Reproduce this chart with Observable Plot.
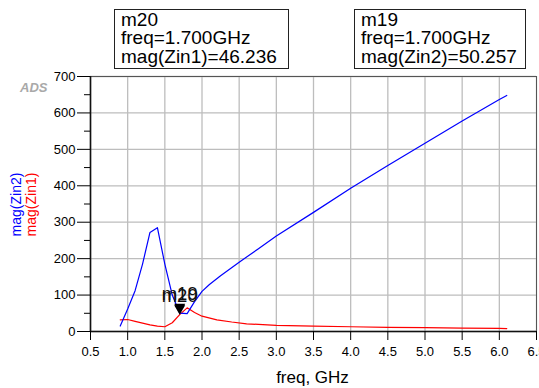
<!DOCTYPE html>
<html>
<head>
<meta charset="utf-8">
<script src="https://cdn.jsdelivr.net/npm/d3@7"></script>
<script src="https://cdn.jsdelivr.net/npm/@observablehq/plot@0.6"></script>
<style>
  html, body { margin: 0; padding: 0; background: white; }
  #chart { position: relative; width: 539px; height: 388px; overflow: hidden; }
</style>
</head>
<body>
<div id="chart"></div>
<script>
// ---- data ----
const zin2Freq = [0.9, 1.0, 1.1, 1.2, 1.3, 1.4, 1.5, 1.6, 1.7, 1.8, 1.9, 2.0, 2.1, 2.25, 2.5, 2.75, 3.0, 3.5, 4.0, 4.5, 5.0, 5.5, 6.0, 6.1];
const zin2Mag  = [15, 62, 112, 185, 272, 285, 185, 100, 50.257, 49, 82, 110, 129, 153, 190, 226, 262, 327, 393, 456, 517, 578, 637, 648];
const zin1Freq = [0.9, 1.0, 1.1, 1.2, 1.3, 1.4, 1.5, 1.6, 1.7, 1.8, 1.9, 2.0, 2.2, 2.4, 2.6, 3.0, 3.5, 4.0, 4.5, 5.0, 5.5, 6.0, 6.1];
const zin1Mag  = [32, 33, 28, 23, 18, 15, 13, 24, 46.236, 65, 52, 42, 32, 26, 21, 17, 15, 13, 11.5, 10.5, 9.5, 8.5, 8];

const markerNames  = ["m20", "m19"];
const markerTraces = ["Zin1", "Zin2"];
const markerFreq   = [1.7, 1.7];
const markerValues = [46.236, 50.257];

const xTicks = [0.5, 1.0, 1.5, 2.0, 2.5, 3.0, 3.5, 4.0, 4.5, 5.0, 5.5, 6.0, 6.5];
const yTicks = [0, 100, 200, 300, 400, 500, 600, 700];
const yMinorTicks = [50, 150, 250, 350, 450, 550, 650];

const xLabel = "freq, GHz";
const yLabels = ["mag(Zin2)", "mag(Zin1)"];
const traceColors = ["blue", "red"];

// ---- tables built from the arrays ----
const zin2 = zin2Freq.map((f, i) => ({f, v: zin2Mag[i]}));
const zin1 = zin1Freq.map((f, i) => ({f, v: zin1Mag[i]}));
const markers = markerNames.map((n, i) => ({name: n, trace: markerTraces[i], f: markerFreq[i], v: markerValues[i]}));

const downTriangle = {
  draw(ctx) {
    ctx.moveTo(0, 0);
    ctx.lineTo(-5.5, -9.5);
    ctx.lineTo(5.5, -9.5);
    ctx.closePath();
  }
};

const font = "'Liberation Sans', Arial, Helvetica, sans-serif";

const chart = Plot.plot({
  width: 539,
  height: 388,
  marginLeft: 90,
  marginRight: 3,
  marginTop: 76,
  marginBottom: 57,
  style: {fontFamily: font, fontSize: "13px", color: "black", background: "white", overflow: "hidden"},
  x: {domain: [0.5, 6.5]},
  y: {domain: [0, 700]},
  marks: [
    Plot.gridX({ticks: xTicks, stroke: "#bdbdbd", strokeOpacity: 1, strokeWidth: 1.3}),
    Plot.gridY({ticks: yTicks, stroke: "#bdbdbd", strokeOpacity: 1, strokeWidth: 1.3}),
    Plot.frame({stroke: "#555"}),
    Plot.ruleX([0.5], {stroke: "#111", strokeWidth: 1.6}),
    Plot.ruleY([0], {stroke: "#111", strokeWidth: 1.6}),
    Plot.axisY({ticks: yTicks, tickSize: 13, tickPadding: 2, label: null, fontSize: 13, tickFormat: d => String(d)}),
    Plot.axisY({ticks: yMinorTicks, tickSize: 6, label: null, tickFormat: () => ""}),
    Plot.axisX({ticks: xTicks, tickSize: 9, tickPadding: 6, label: null, fontSize: 13, tickFormat: d => d.toFixed(1)}),
    Plot.line(zin1, {x: "f", y: "v", stroke: traceColors[1], strokeWidth: 1.2}),
    Plot.line(zin2, {x: "f", y: "v", stroke: traceColors[0], strokeWidth: 1.2}),
    Plot.dot(markers, {x: "f", y: "v", symbol: downTriangle, r: 4, fill: "black", stroke: null}),
    Plot.text(markers, {x: "f", y: "v", text: "name", dy: -19, fontSize: 18.5, fill: "#111"})
  ]
});

document.getElementById("chart").appendChild(chart);

// ---- annotations (text outside the frame) ----
const svg = d3.select(chart);

// ADS logo text
svg.append("text")
  .attr("x", 20).attr("y", 91.5)
  .attr("text-anchor", "start")
  .attr("font-family", font).attr("font-size", 13)
  .attr("font-weight", "bold").attr("font-style", "italic")
  .attr("fill", "#a9a9a9")
  .text("ADS");

// y-axis labels (rotated)
[[20.5, 0], [36, 1]].forEach(([x, i]) => {
  svg.append("text")
    .attr("transform", `translate(${x},204.5) rotate(-90)`)
    .attr("text-anchor", "middle")
    .attr("font-family", font).attr("font-size", 14)
    .attr("fill", traceColors[i])
    .text(yLabels[i]);
});

// x-axis label
svg.append("text")
  .attr("x", 312.5).attr("y", 383)
  .attr("text-anchor", "middle")
  .attr("font-family", font).attr("font-size", 17)
  .attr("fill", "black")
  .text(xLabel);

// marker readout boxes
const boxes = [
  {m: markers[0], x: 114.5, w: 174},
  {m: markers[1], x: 354.5, w: 171}
];
boxes.forEach(({m, x, w}) => {
  const g = svg.append("g");
  g.append("rect")
    .attr("x", x).attr("y", 9.5).attr("width", w).attr("height", 59)
    .attr("fill", "white").attr("stroke", "#222").attr("stroke-width", 1);
  const lines = [m.name, `freq=${m.f.toFixed(3)}GHz`, `mag(${m.trace})=${m.v.toFixed(3)}`];
  lines.forEach((t, j) => {
    g.append("text")
      .attr("x", x + 6.5).attr("y", 26 + j * 18.4)
      .attr("text-anchor", "start")
      .attr("font-family", font).attr("font-size", 19)
      .attr("fill", "black")
      .text(t);
  });
});
</script>
</body>
</html>
